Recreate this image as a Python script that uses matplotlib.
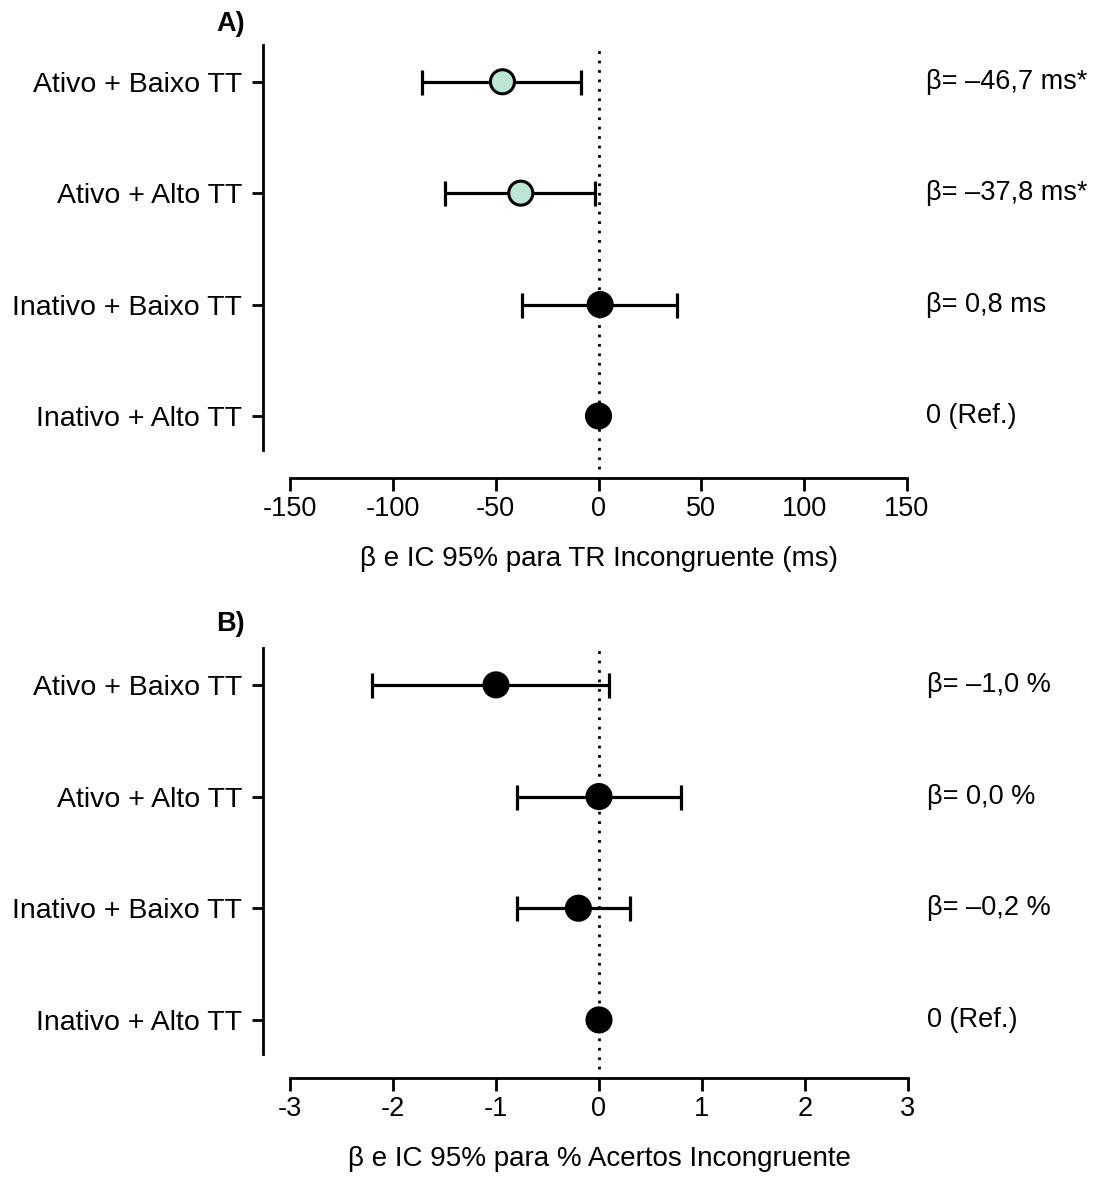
import numpy as np
import matplotlib
matplotlib.use("Agg")
import matplotlib.pyplot as plt
import matplotlib.transforms as mtransforms

plt.rcParams['font.family'] = ['Liberation Sans', 'DejaVu Sans']
FS = 19.5
plt.rcParams['font.size'] = FS
plt.rcParams['xtick.labelsize'] = FS
plt.rcParams['ytick.labelsize'] = 20.5

# categories (top to bottom)
groups = ["Ativo + Baixo TT", "Ativo + Alto TT", "Inativo + Baixo TT", "Inativo + Alto TT"]

# Panel A: TR incongruente (ms)
beta_a = [-46.7, -37.8, 0.8, 0.0]
lo_a = [-85.7, -74.5, -37.4, np.nan]
hi_a = [-8.7, -1.5, 38.4, np.nan]
labels_a = ["β= –46,7 ms*", "β= –37,8 ms*", "β= 0,8 ms", "0 (Ref.)"]
signif_a = [True, True, False, False]
ticks_a = [-150, -100, -50, 0, 50, 100, 150]

# Panel B: % acertos incongruente
beta_b = [-1.0, 0.0, -0.2, 0.0]
lo_b = [-2.2, -0.8, -0.8, np.nan]
hi_b = [0.1, 0.8, 0.3, np.nan]
labels_b = ["β= –1,0 %", "β= 0,0 %", "β= –0,2 %", "0 (Ref.)"]
signif_b = [False, False, False, False]
ticks_b = [-3, -2, -1, 0, 1, 2, 3]

GREEN = '#bde5d6'

fig = plt.figure(figsize=(10.96, 11.77), dpi=100)
W, H = 1096, 1177


def add_axes_px(left, right, top, bottom):
    return fig.add_axes([left / W, 1 - bottom / H, (right - left) / W, (bottom - top) / H])


def forest(ax, beta, lo, hi, labels, signif, ticks, xlabel, ybot):
    n = len(groups)
    y = np.arange(n)[::-1]
    beta = np.array(beta)
    lo = np.array(lo)
    hi = np.array(hi)
    ok = ~np.isnan(lo)

    # spine layout first (moving a spine resets the ticks)
    for s in ['top', 'right']:
        ax.spines[s].set_visible(False)
    ax.spines['left'].set_position(('outward', 19.5))
    ax.spines['left'].set_linewidth(2)
    ax.spines['bottom'].set_linewidth(2)

    lim = ticks[-1]
    ax.set_xlim(-lim, lim)
    ax.set_ylim(ybot, 3.33)
    ax.spines['left'].set_bounds(-0.305, 3.33)

    # reference line at zero
    ax.plot([0, 0], [ybot + 0.08, 3.33], color='black', lw=2,
            linestyle=(0, (1, 2.4)), zorder=1, clip_on=False)

    ax.errorbar(beta[ok], y[ok], xerr=[beta[ok] - lo[ok], hi[ok] - beta[ok]],
                fmt='none', ecolor='black', elinewidth=2.3, capsize=9, capthick=2.3, zorder=2)
    colors = [GREEN if s else 'black' for s in signif]
    ax.scatter(beta, y, s=300, c=colors, edgecolors='black', linewidths=2.2, zorder=3)

    ax.set_yticks(y)
    ax.set_yticklabels(groups)
    ax.set_xticks(ticks)
    ax.set_xticklabels([str(t) for t in ticks])
    ax.set_xlabel(xlabel, fontsize=20, labelpad=17)

    ax.tick_params(axis='x', length=9, width=2, pad=4, direction='out')
    ax.tick_params(axis='y', length=8, width=2, pad=7, direction='out')

    trans = mtransforms.blended_transform_factory(ax.transAxes, ax.transData)
    for yi, txt in zip(y, labels):
        ax.text(1.03, yi, txt, transform=trans, ha='left', va='center')


ax_a = add_axes_px(290, 907, 45, 478)
forest(ax_a, beta_a, lo_a, hi_a, labels_a, signif_a, ticks_a,
       "β e IC 95% para TR Incongruente (ms)", -0.557)

ax_b = add_axes_px(290, 908, 648, 1078)
forest(ax_b, beta_b, lo_b, hi_b, labels_b, signif_b, ticks_b,
       "β e IC 95% para % Acertos Incongruente", -0.52)

fig.text(216 / W, 1 - 24 / H, "A)", fontweight='bold', va='center', ha='left')
fig.text(216 / W, 1 - 624 / H, "B)", fontweight='bold', va='center', ha='left')

fig.savefig('out.png', dpi=100, facecolor='white')
